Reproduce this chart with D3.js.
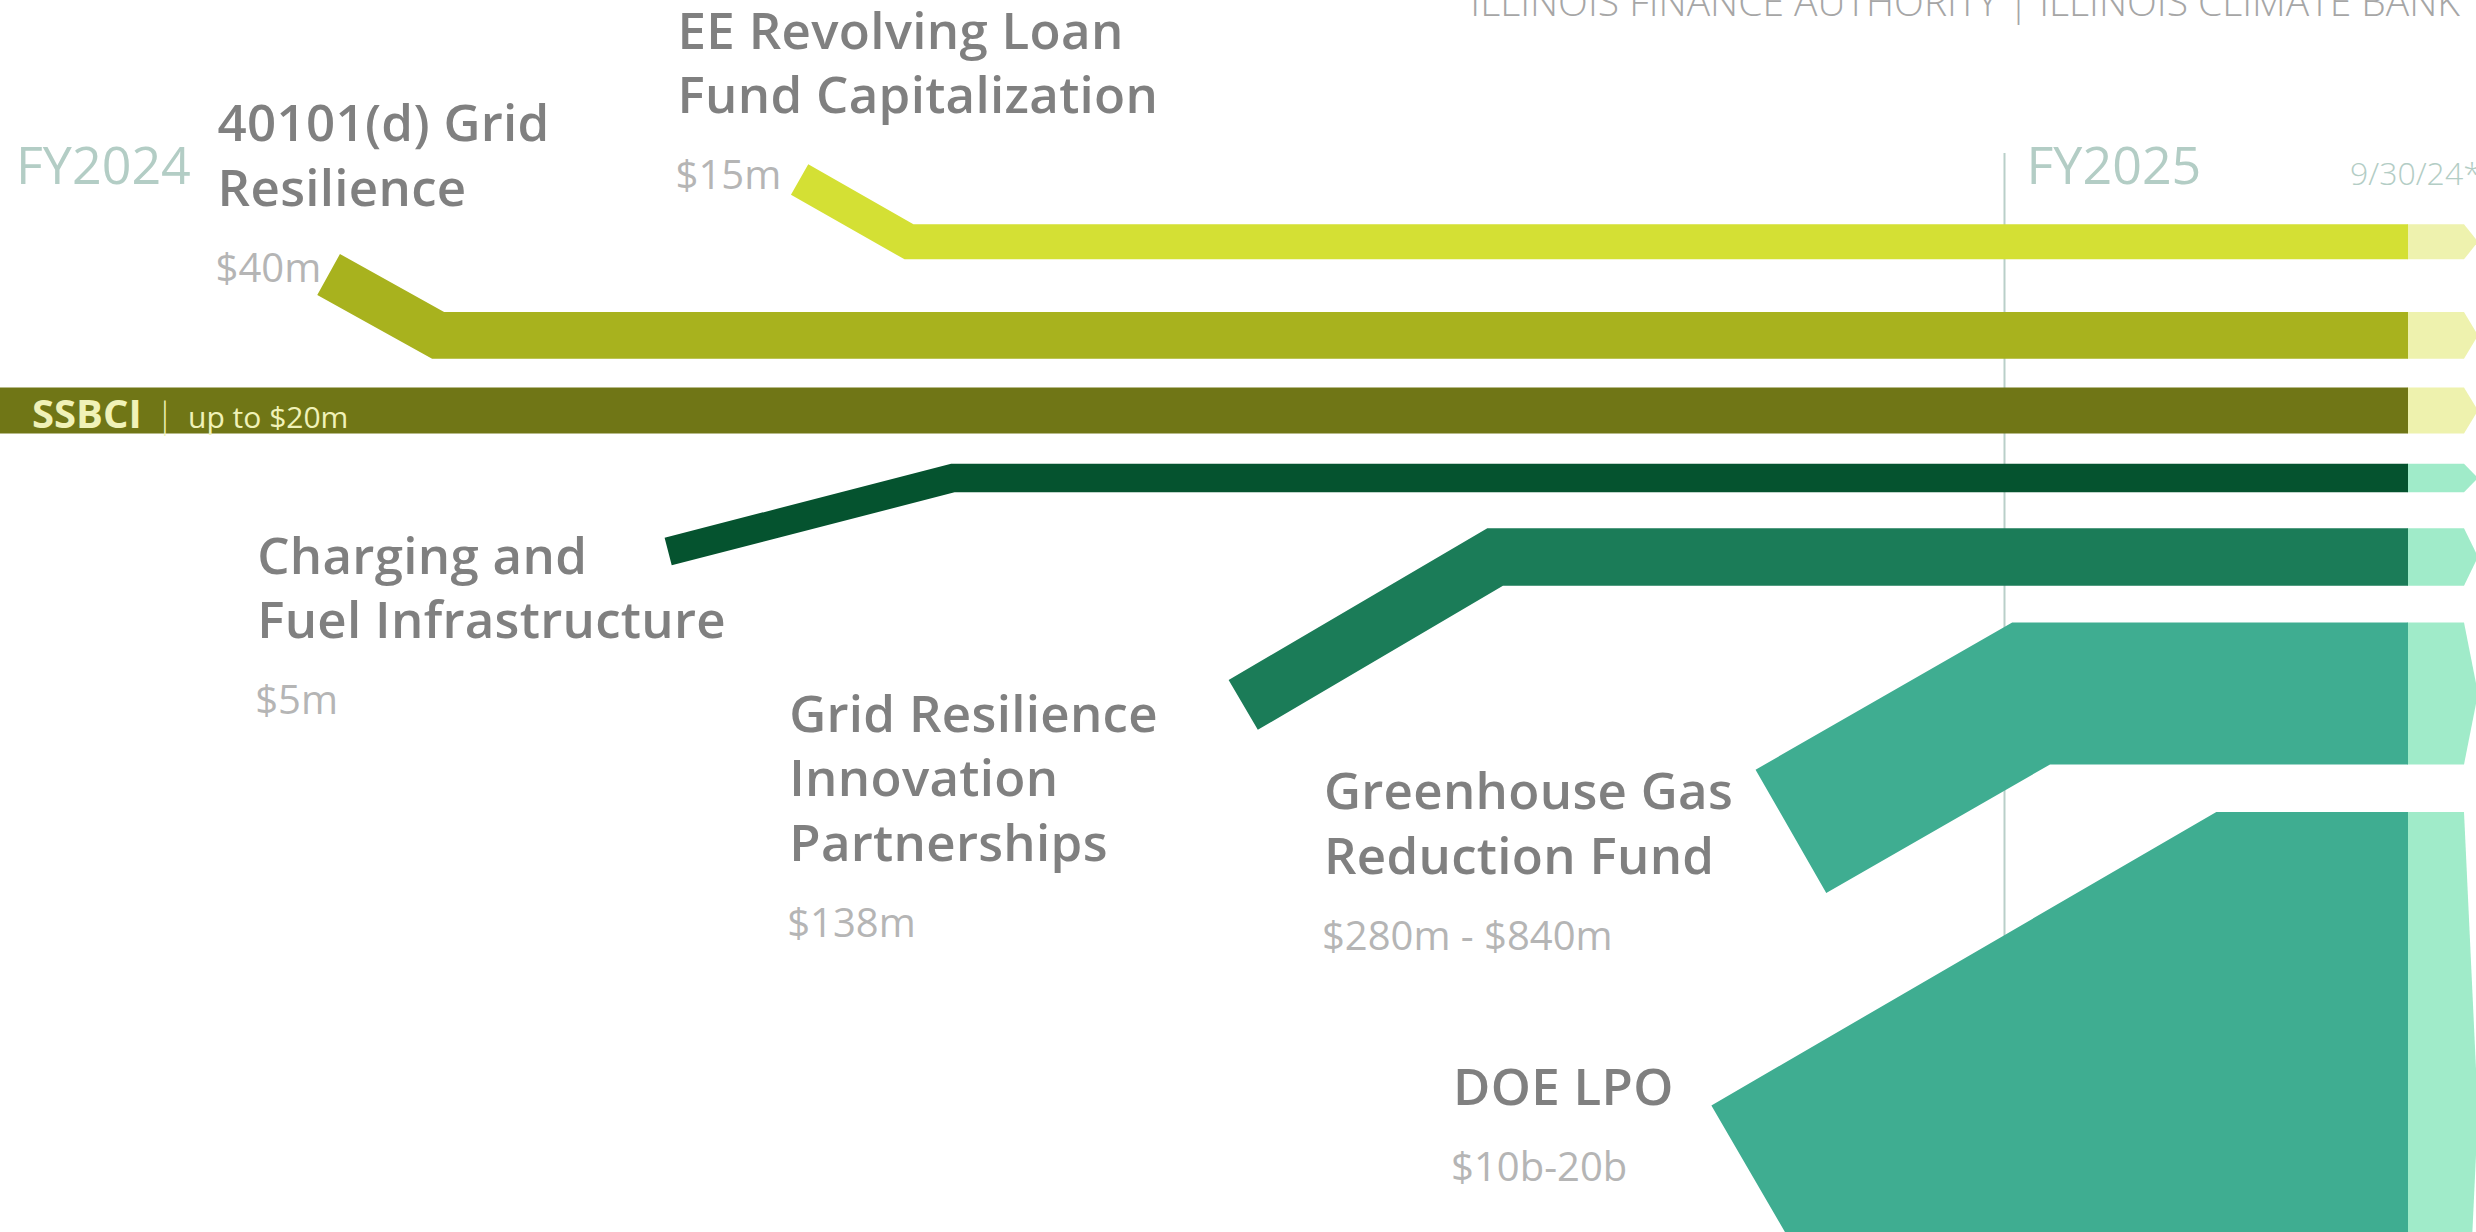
<!DOCTYPE html>
<html>
<head>
<meta charset="utf-8">
<script src="https://cdn.jsdelivr.net/npm/d3@7"></script>
<style>
  body { margin: 0; background: #fff; overflow: hidden; }
  text { font-family: "Open Sans", sans-serif; }
</style>
</head>
<body>
<svg id="chart"></svg>
<script>
// programs, top to bottom ("\n" = line break in the label)
const programs = [
  "EE Revolving Loan\nFund Capitalization",
  "40101(d) Grid\nResilience",
  "SSBCI",
  "Charging and\nFuel Infrastructure",
  "Grid Resilience\nInnovation\nPartnerships",
  "Greenhouse Gas\nReduction Fund",
  "DOE LPO"
];
const amounts = ["$15m", "$40m", "up to $20m", "$5m", "$138m", "$280m - $840m", "$10b-20b"];

// when each program was awarded (start of the diagonal) and when it joined the lane
const awardDates = ["2023-11-24", "2023-08-30", "2023-07-01", "2023-10-31", "2024-02-13", "2024-05-23", "2024-06-05"];
const openDates  = ["2023-12-14", "2023-09-19", "2023-07-01", "2023-12-22", "2024-03-30", "2024-07-07", "2024-09-05"];
// lane (0 = top, 100 = bottom) where the band starts and where it runs once open
const originTracks = [14.57, 22.28, 33.32, 44.77, 57.22, 67.48, 110.78];
const tracks       = [19.63, 27.22, 33.32, 38.80, 45.21, 56.29, 90.26];
// band weight, in the same lane units
const weights = [2.84, 3.79, 3.73, 2.31, 4.68, 11.53, 48.7];

const fiscalYears = ["FY2024", "FY2025"];
const fiscalStarts = ["2023-07-01", "2024-07-01"];
const asOfDate = "2024-09-30";
const asOfLabel = "9/30/24*";
const header = "ILLINOIS FINANCE AUTHORITY  |  ILLINOIS CLIMATE BANK";

// styles
const bandColors = ["#d4e034", "#a8b21e", "#707616", "#05532f", "#1b7c58", "#3fad91", "#3fad91"];
const tailColors = ["#eef2ae", "#eef2ae", "#eef2ae", "#a0ebc9", "#a0ebc9", "#a0ebc9", "#a0ebc9"];
// label block position relative to the start of each band (px)
const labelOffsets = [[-122, -131], [-111, -133], null, [-411, 22], [-454, 27], [-467, -22], [-409, -260]];

const width = 2476, height = 1232;
const parse = d3.timeParse("%Y-%m-%d");

const svg = d3.select("#chart")
    .attr("width", width)
    .attr("height", height);

const x = d3.scaleTime()
    .domain([parse(fiscalStarts[0]), parse(fiscalStarts[1]), parse(asOfDate)])
    .range([0, 2004.5, 2408]);
const y = d3.scaleLinear([0, 100], [0, height]);
const thick = v => y(v) - y(0);

const bands = programs.map((name, i) => {
  let pts = [];
  if (awardDates[i] !== openDates[i]) pts.push({date: parse(awardDates[i]), track: originTracks[i]});
  pts.push({date: parse(openDates[i]), track: tracks[i]});
  pts.push({date: parse(asOfDate), track: tracks[i]});
  return {name, amount: amounts[i], pts, w: thick(weights[i]), i};
});

// fiscal year divider
svg.append("line")
    .attr("x1", x(parse(fiscalStarts[1]))).attr("x2", x(parse(fiscalStarts[1])))
    .attr("y1", 153).attr("y2", height)
    .attr("stroke", "#b9cfc9")
    .attr("stroke-width", 2);

svg.selectAll(".fy")
  .data(fiscalYears)
  .join("text")
    .attr("class", "fy")
    .attr("x", (d, i) => x(parse(fiscalStarts[i])) + (i ? 22 : 16))
    .attr("y", 184)
    .attr("font-size", 52)
    .attr("font-weight", 400)
    .attr("fill", "#b3cdc5")
    .text(d => d);

svg.append("text")
    .attr("x", x(parse(asOfDate)) - 58)
    .attr("y", 185)
    .attr("font-size", 32)
    .attr("font-weight", 300)
    .attr("fill", "#b3cdc5")
    .text(asOfLabel);

svg.append("text")
    .attr("x", 2460)
    .attr("y", 16)
    .attr("text-anchor", "end")
    .attr("font-size", 39)
    .attr("font-weight", 300)
    .attr("fill", "#a6a6a6")
    .text(header);

const line = d3.line()
    .x(d => x(d.date))
    .y(d => y(d.track));

// light tail after the as-of date
const tail = d3.line();
svg.selectAll(".tail")
  .data(bands)
  .join("path")
    .attr("class", "tail")
    .attr("fill", (d, i) => tailColors[i])
    .attr("d", d => {
      const x0 = x(parse(asOfDate)), yc = y(tracks[d.i]), h = d.w / 2;
      return tail([[x0 - 1, yc - h], [x0 + 56, yc - h], [x0 + 70, yc], [x0 + 56, yc + h], [x0 - 1, yc + h]]) + "Z";
    });

svg.selectAll(".band")
  .data(bands)
  .join("path")
    .attr("class", "band")
    .attr("fill", "none")
    .attr("stroke", (d, i) => bandColors[i])
    .attr("stroke-width", d => d.w)
    .attr("stroke-linejoin", "miter")
    .attr("stroke-linecap", "butt")
    .attr("d", d => line(d.pts));

// program labels
const labelled = bands.filter(d => labelOffsets[d.i]);
const lab = svg.selectAll(".label")
  .data(labelled)
  .join("g")
    .attr("class", "label")
    .attr("transform", d => {
      const p = d.pts[0];
      return `translate(${x(p.date) + labelOffsets[d.i][0]},${y(p.track) + labelOffsets[d.i][1]})`;
    });

lab.append("text")
    .attr("font-size", 51)
    .attr("font-weight", 600)
    .attr("letter-spacing", 0.3)
    .attr("fill", "#808080")
  .selectAll("tspan")
  .data(d => d.name.split("\n"))
  .join("tspan")
    .attr("x", 0)
    .attr("y", (d, i) => i * 64.5)
    .text(d => d);

lab.append("text")
    .attr("x", -2)
    .attr("y", d => (d.name.split("\n").length - 1) * 64.5 + 76)
    .attr("font-size", 40)
    .attr("fill", "#b5b5b5")
    .text(d => d.amount);

// SSBCI label sits inside its band
const ss = bands[2];
const ssText = svg.append("text")
    .attr("x", 32)
    .attr("y", y(tracks[2]) + 17)
    .attr("fill", "#f0f2b8");
ssText.append("tspan")
    .attr("font-size", 40)
    .attr("font-weight", 700)
    .text(ss.name);
ssText.append("tspan")
    .attr("dx", 14)
    .attr("font-size", 34)
    .attr("font-weight", 300)
    .text("|");
ssText.append("tspan")
    .attr("dx", 14)
    .attr("font-size", 30)
    .text(ss.amount);
</script>
</body>
</html>
